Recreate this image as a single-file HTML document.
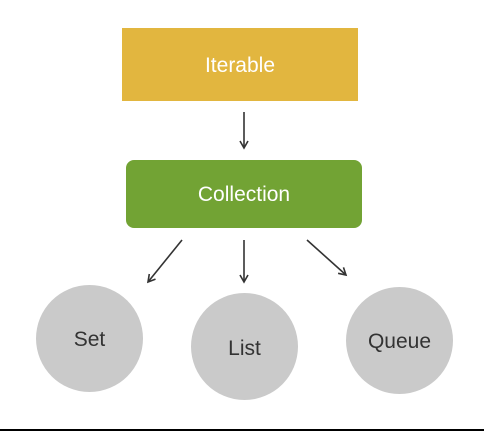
<!DOCTYPE html><html><head><style>html,body{margin:0;padding:0;background:#fff;width:484px;height:431px;overflow:hidden}</style></head><body>
<svg width="484" height="431" xmlns="http://www.w3.org/2000/svg" font-family="Liberation Sans, sans-serif">
<defs><marker id="a" markerWidth="10" markerHeight="10" refX="8" refY="5" orient="auto" markerUnits="userSpaceOnUse"><path d="M1,1 L8,5 L1,9" fill="none" stroke="#333" stroke-width="1.6"/></marker></defs>
<rect x="122" y="28" width="236" height="73" fill="#E2B63F"/>
<text x="240" y="72" text-anchor="middle" font-size="21" fill="#fff">Iterable</text>
<rect x="126" y="160" width="236" height="68" rx="8" fill="#72A334"/>
<text x="244" y="201" text-anchor="middle" font-size="21" fill="#fff">Collection</text>
<g stroke="#333" stroke-width="1.6" marker-end="url(#a)">
<line x1="244" y1="112" x2="244" y2="148"/>
<line x1="182" y1="240" x2="148" y2="282"/>
<line x1="244" y1="240" x2="244" y2="282"/>
<line x1="307" y1="240" x2="346" y2="275"/>
</g>
<g fill="#CACACA"><circle cx="89.5" cy="338.5" r="53.5"/><circle cx="244.5" cy="346.5" r="53.5"/><circle cx="399.5" cy="340.5" r="53.5"/></g>
<g font-size="21" fill="#333" text-anchor="middle">
<text x="89.5" y="346">Set</text><text x="244.5" y="355">List</text><text x="399.5" y="348">Queue</text></g>
<rect x="0" y="429" width="484" height="2" fill="#000"/>
</svg></body></html>
